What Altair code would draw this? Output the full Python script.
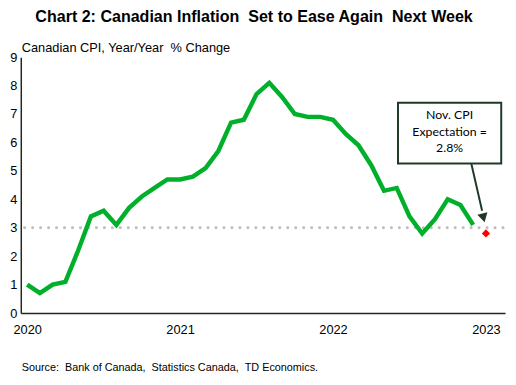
import altair as alt
import pandas as pd

# Monthly Canadian CPI y/y (% change), Nov 2020 .. Oct 2023
cpi = [1.0, 0.7, 1.0, 1.1, 2.2, 3.4, 3.6, 3.1, 3.7, 4.1, 4.4, 4.7,
       4.7, 4.8, 5.1, 5.7, 6.7, 6.8, 7.7, 8.1, 7.6, 7.0, 6.9, 6.9,
       6.8, 6.3, 5.9, 5.2, 4.3, 4.4, 3.4, 2.8, 3.3, 4.0, 3.8, 3.1]
expect_idx = [36]
expect_val = [2.8]
tick_pos = [0, 12, 24, 36]
tick_labels = ["2020", "2021", "2022", "2023"]
y_ticks = [0, 1, 2, 3, 4, 5, 6, 7, 8, 9]
ref_level = [3]
ann_lines = ["Nov. CPI", "Expectation =", "2.8%"]
ann_y = [6.95, 6.38, 5.8]

df = pd.DataFrame({"i": list(range(len(cpi))), "v": cpi})
exp_df = pd.DataFrame({"i": expect_idx, "v": expect_val})

label_expr = "{" + ",".join(f"'{p}':'{l}'" for p, l in zip(tick_pos, tick_labels)) + "}[datum.value]"

xs = alt.Scale(domain=[-0.5, 37.5], nice=False, zero=False)
ys = alt.Scale(domain=[0, 9], nice=False)

xaxis = alt.Axis(values=tick_pos, labelExpr=label_expr, grid=False, ticks=False,
                 domainColor="#1c2b1c", domainWidth=1.5, labelFont="Liberation Sans",
                 labelFontSize=13, labelColor="#000", labelPadding=11, title=None,
                 labelOverlap=False)
yaxis = alt.Axis(values=y_ticks, grid=False, ticks=False,
                 domainColor="#1c2b1c", domainWidth=1.5, labelFont="Liberation Sans",
                 labelFontSize=13, labelColor="#000", labelPadding=4, title=None,
                 labelOverlap=False)

def X(f):
    return alt.X(f, scale=xs, axis=xaxis)

def Y(f):
    return alt.Y(f, scale=ys, axis=yaxis)

ref = alt.Chart(pd.DataFrame({"x": [-0.2], "x2": [37.5], "y": ref_level})).mark_rule(
    color="#bdbdbd", strokeWidth=3, strokeDash=[0.1, 8], strokeCap="round"
).encode(x=X("x:Q"), x2="x2:Q", y=Y("y:Q"))

line = alt.Chart(df).mark_line(color="#00b02a", strokeWidth=4.5, strokeJoin="miter").encode(
    x=X("i:Q"), y=Y("v:Q"))

diamond = alt.Chart(exp_df).mark_point(shape="diamond", filled=True, color="#ff0000",
                                       size=70, opacity=1).encode(
    x=X("i:Q"), y=Y("v:Q"))

box = alt.Chart(pd.DataFrame({"x": [29.1], "x2": [37.2], "y": [7.4], "y2": [5.26]})).mark_rect(
    fill="white", stroke="#1e3a26", strokeWidth=2
).encode(x=X("x:Q"), x2="x2:Q", y=Y("y:Q"), y2="y2:Q")

box_text = alt.Chart(pd.DataFrame({"x": [33.15] * 3, "y": ann_y, "t": ann_lines})).mark_text(
    font="Lato", fontSize=12.5, color="#000", align="center", baseline="middle"
).encode(x=X("x:Q"), y=Y("y:Q"), text="t")

arrow = alt.Chart(pd.DataFrame({"x": [34.85], "y": [5.26], "x2": [35.7], "y2": [3.6]})).mark_rule(
    color="#1e3a26", strokeWidth=2
).encode(x=X("x:Q"), y=Y("y:Q"), x2="x2:Q", y2="y2:Q")

head = alt.Chart(pd.DataFrame({"x": [35.78], "y": [3.4]})).mark_point(
    shape="triangle", filled=True, color="#1e3a26", size=110, angle=166, opacity=1
).encode(x=X("x:Q"), y=Y("y:Q"))

NB = "\u00a0"
title = alt.Chart(pd.DataFrame({"t": [f"Chart 2: Canadian Inflation {NB}Set to Ease Again {NB}Next Week"]})).mark_text(
    font="Liberation Sans", fontSize=16.3, fontWeight="bold", color="#000", align="center", baseline="middle"
).encode(x=alt.value(237), y=alt.value(-41), text="t")

subtitle = alt.Chart(pd.DataFrame({"t": [f"Canadian CPI, Year/Year {NB}% Change"]})).mark_text(
    font="Liberation Sans", fontSize=13, color="#000", align="left", baseline="middle"
).encode(x=alt.value(1), y=alt.value(-9), text="t")

source = alt.Chart(pd.DataFrame({"t": [f"Source: {NB}Bank of Canada, {NB}Statistics Canada, {NB}TD Economics."]})).mark_text(
    font="Liberation Sans", fontSize=11, color="#000", align="left", baseline="middle"
).encode(x=alt.value(1), y=alt.value(316), text="t")

chart = alt.layer(ref, line, diamond, box, box_text, arrow, head, title, subtitle, source).properties(
    width=492, height=260,
    autosize=alt.AutoSizeParams(type="none"),
    padding={"left": 13, "top": 47, "right": 3, "bottom": 62},
).configure_view(stroke=None)

chart.save("out.html", embed_options={"renderer": "svg", "actions": False})
